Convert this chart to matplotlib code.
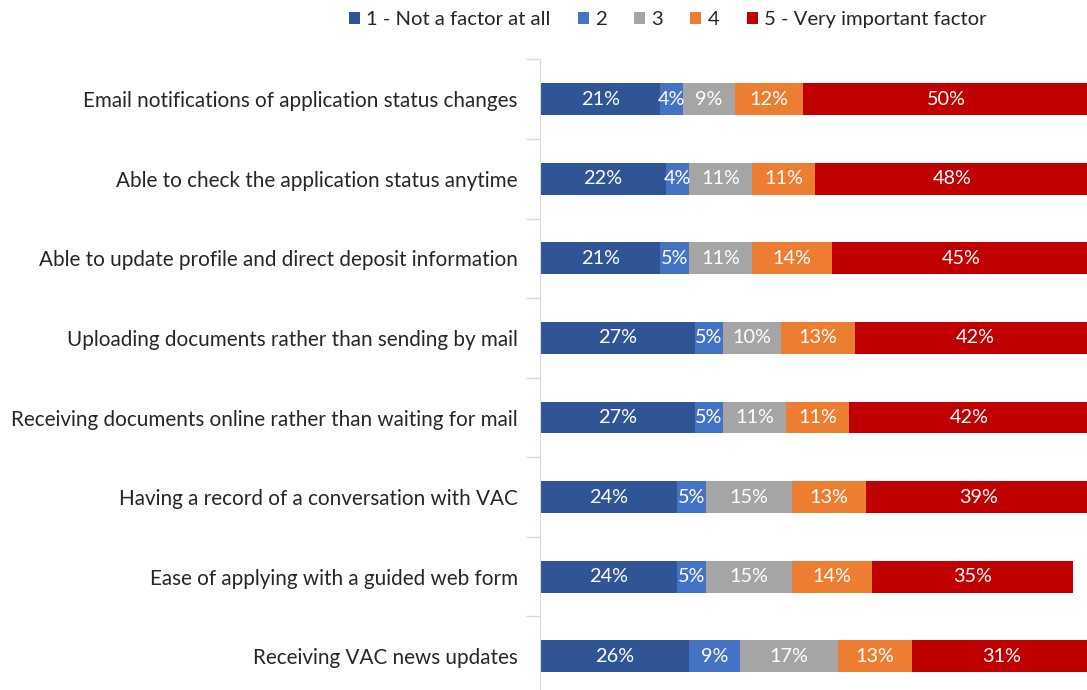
import matplotlib.pyplot as plt
import numpy as np

plt.rcParams['font.family'] = ['Lato', 'DejaVu Sans']

categories = [
    'Email notifications of application status changes',
    'Able to check the application status anytime',
    'Able to update profile and direct deposit information',
    'Uploading documents rather than sending by mail',
    'Receiving documents online rather than waiting for mail',
    'Having a record of a conversation with VAC',
    'Ease of applying with a guided web form',
    'Receiving VAC news updates',
]
series_names = ['1 - Not a factor at all', '2', '3', '4', '5 - Very important factor']
not_a_factor = [21, 22, 21, 27, 27, 24, 24, 26]
two = [4, 4, 5, 5, 5, 5, 5, 9]
three = [9, 11, 11, 10, 11, 15, 15, 17]
four = [12, 11, 14, 13, 11, 13, 14, 13]
very_important = [50, 48, 45, 42, 42, 39, 35, 31]

colors = ['#2F5597', '#4472C4', '#A5A5A5', '#ED7D31', '#C00000']

fig = plt.figure(figsize=(10.87, 6.9), dpi=100)
ax = fig.add_axes([0.4968, -0.0087, 0.5032, 0.9225])

y = np.arange(len(categories))
left = np.zeros(len(categories))
for name, vals, c in zip(series_names, [not_a_factor, two, three, four, very_important], colors):
    vals = np.array(vals, dtype=float)
    ax.barh(y, vals, left=left, height=0.4, color=c, label=name)
    for yi, l, v in zip(y, left, vals):
        ax.text(l + v / 2, yi, '{}%'.format(int(v)), ha='center', va='center',
                color='white', fontsize=14.3)
    left += vals

ax.set_xlim(0, 95.5)
ax.set_ylim(len(categories) - 0.5, -0.5)
ax.set_xticks([])
ax.set_yticks(np.arange(-0.5, len(categories)), labels=[])
ax.set_yticks(y, labels=categories, minor=True)
ax.tick_params(axis='y', which='major', length=10, color='#d9d9d9', width=1)
ax.tick_params(axis='y', which='minor', length=0, pad=16, labelsize=14.9, labelcolor='#262626')
for s in ['top', 'right', 'bottom']:
    ax.spines[s].set_visible(False)
ax.spines['left'].set_color('#d9d9d9')

ax.legend(loc='center', bbox_to_anchor=(0.614, 0.972), bbox_transform=fig.transFigure,
          ncol=5, frameon=False, fontsize=14.6, handlelength=0.55, handleheight=0.55,
          handletextpad=0.3, columnspacing=1.35, labelcolor='#262626')

fig.savefig('out.png', dpi=100)
